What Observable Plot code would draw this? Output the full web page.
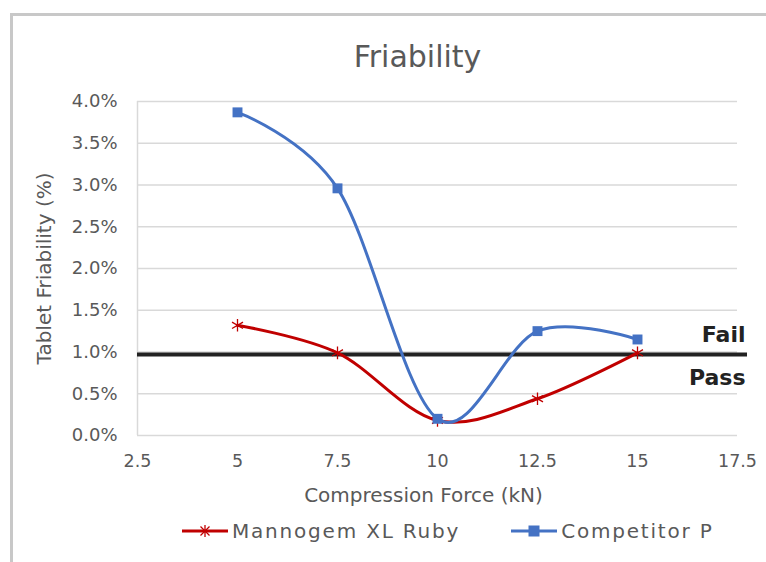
<!DOCTYPE html>
<html><head><meta charset="utf-8">
<script src="https://cdn.jsdelivr.net/npm/d3@7"></script>
<script src="https://cdn.jsdelivr.net/npm/@observablehq/plot@0.6"></script>
<style>
body{margin:0;background:#fff;font-family:"DejaVu Sans",sans-serif;}
#wrap{position:relative;width:766px;height:562px;overflow:hidden;background:#fff;}
#frame{position:absolute;left:10px;top:13px;width:800px;height:600px;border-left:3px solid #c8c8c8;border-top:3px solid #c8c8c8;pointer-events:none;}
#legend{position:absolute;top:512px;left:182px;height:38px;display:flex;align-items:center;font-size:20px;letter-spacing:1.8px;color:#595959;}
.item{display:flex;align-items:center;margin-right:51px;}
.item svg{margin-right:4px;}
</style>
</head><body>
<div id="wrap"><div id="chart"></div><div id="frame"></div><div id="legend"></div></div>
<script>
const title = "Friability";
const xLabel = "Compression Force (kN)";
const yLabel = "Tablet Friability (%)";
const forces = [5, 7.5, 10, 12.5, 15];
const mannogem = [0.0132, 0.0099, 0.0018, 0.0044, 0.0099];
const competitor = [0.0387, 0.0296, 0.0020, 0.0125, 0.0115];
const seriesNames = ["Mannogem XL Ruby", "Competitor P"];
const seriesColors = ["#c00000", "#4472c4"];
const xTicks = [2.5, 5, 7.5, 10, 12.5, 15, 17.5];
const yTicks = [0, 0.005, 0.01, 0.015, 0.02, 0.025, 0.03, 0.035, 0.04];
const threshold = [0.0097];
const zoneLabels = ["Fail", "Pass"];
const zoneY = [0.0121, 0.0069];

const red = forces.map((f, i) => ({x: f, y: mannogem[i]}));
const blue = forces.map((f, i) => ({x: f, y: competitor[i]}));
const zones = zoneLabels.map((t, i) => ({t, y: zoneY[i]}));
const gray = "#595959";

const chart = Plot.plot({
  width: 766, height: 562,
  marginLeft: 137, marginRight: 29, marginTop: 101, marginBottom: 127,
  style: {fontFamily: "'DejaVu Sans', sans-serif", background: "transparent", overflow: "visible"},
  x: {domain: [2.5, 17.5], ticks: xTicks},
  y: {domain: [0, 0.04], ticks: yTicks},
  marks: [
    Plot.gridY(yTicks, {stroke: "#d9d9d9", strokeOpacity: 1, strokeWidth: 1.5}),
    Plot.ruleX([2.5], {stroke: "#d9d9d9", strokeWidth: 1.5}),
    Plot.axisY(yTicks, {tickSize: 0, tickPadding: 20, fontSize: 18, fill: gray, tickFormat: d3.format(".1%"), label: null}),
    Plot.axisX(xTicks, {tickSize: 0, tickPadding: 19, fontSize: 17.5, fill: gray, tickFormat: d => String(d), label: null}),
    Plot.ruleY(threshold, {x1: 2.5, x2: 17.75, stroke: "#222", strokeWidth: 4}),
    Plot.text(zones, {x: 17.7, y: "y", text: "t", textAnchor: "end", fontSize: 22, fontWeight: "bold", fill: "#222"}),
    Plot.line(red, {x: "x", y: "y", stroke: seriesColors[0], strokeWidth: 3, curve: "cardinal"}),
    Plot.dot(red, {x: "x", y: "y", symbol: "asterisk", r: 6, stroke: seriesColors[0], strokeWidth: 1.3}),
    Plot.line(blue, {x: "x", y: "y", stroke: seriesColors[1], strokeWidth: 3, curve: "cardinal"}),
    Plot.dot(blue, {x: "x", y: "y", symbol: "square", r: 5.6, fill: seriesColors[1], stroke: "none"}),
    Plot.text([title], {frameAnchor: "top", lineAnchor: "middle", dx: -20, dy: -44, fontSize: 30, letterSpacing: 1, fill: gray}),
    Plot.text([xLabel], {frameAnchor: "bottom", lineAnchor: "middle", dx: -14, dy: 60, fontSize: 20, letterSpacing: 0.3, fill: gray}),
    Plot.text([yLabel], {frameAnchor: "left", textAnchor: "middle", dx: -93, rotate: -90, fontSize: 20, letterSpacing: 1.4, fill: gray})
  ]
});
document.getElementById("chart").appendChild(chart);

const legend = document.getElementById("legend");
seriesNames.forEach((name, i) => {
  const item = document.createElement("div");
  item.className = "item";
  const marker = i === 0
    ? `<g stroke="${seriesColors[0]}" stroke-width="1.3"><line x1="23" y1="5" x2="23" y2="17"/><line x1="17" y1="11" x2="29" y2="11"/><line x1="18.5" y1="6.5" x2="27.5" y2="15.5"/><line x1="18.5" y1="15.5" x2="27.5" y2="6.5"/></g>`
    : `<rect x="17.5" y="5.5" width="11" height="11" fill="${seriesColors[1]}"/>`;
  item.innerHTML = `<svg width="46" height="22"><line x1="0" y1="11" x2="46" y2="11" stroke="${seriesColors[i]}" stroke-width="3"/>${marker}</svg><span>${name}</span>`;
  legend.appendChild(item);
});
</script>
</body></html>
